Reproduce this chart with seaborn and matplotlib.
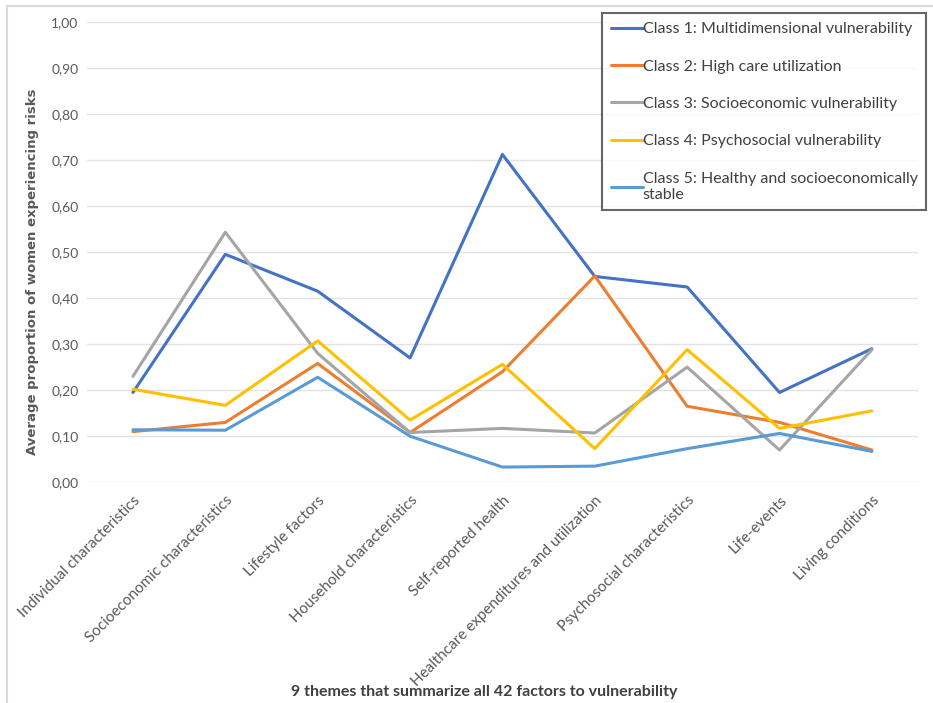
import pandas as pd
import matplotlib
matplotlib.use("Agg")
import matplotlib.pyplot as plt
import seaborn as sns
from matplotlib.patches import Rectangle
from matplotlib.ticker import FuncFormatter

themes = [
    "Individual characteristics",
    "Socioeconomic characteristics",
    "Lifestyle factors",
    "Household characteristics",
    "Self-reported health",
    "Healthcare expenditures and utilization",
    "Psychosocial characteristics",
    "Life-events",
    "Living conditions",
]

class_names = [
    "Class 1: Multidimensional vulnerability",
    "Class 2: High care utilization",
    "Class 3: Socioeconomic vulnerability",
    "Class 4: Psychosocial vulnerability",
    "Class 5: Healthy and socioeconomically\nstable",
]

class1 = [0.195, 0.495, 0.415, 0.270, 0.712, 0.447, 0.424, 0.195, 0.290]
class2 = [0.110, 0.130, 0.258, 0.108, 0.240, 0.448, 0.165, 0.130, 0.070]
class3 = [0.230, 0.543, 0.280, 0.108, 0.117, 0.107, 0.250, 0.070, 0.288]
class4 = [0.202, 0.167, 0.307, 0.135, 0.256, 0.073, 0.288, 0.117, 0.155]
class5 = [0.114, 0.113, 0.228, 0.100, 0.033, 0.035, 0.073, 0.106, 0.067]

colors = ["#4472C4", "#ED7D31", "#A5A5A5", "#FFC000", "#5B9BD5"]

rows = []
for name, vals in zip(class_names, [class1, class2, class3, class4, class5]):
    for t, v in zip(themes, vals):
        rows.append({"theme": t, "value": v, "cls": name})
df = pd.DataFrame(rows)

sns.set_style("white")
plt.rcParams["font.family"] = ["Lato", "DejaVu Sans"]

fig = plt.figure(figsize=(9.33, 7.03), dpi=100)
ax = fig.add_axes([0.093, 0.314, 0.891, 0.655])

sns.lineplot(data=df, x="theme", y="value", hue="cls", palette=colors,
             sort=False, linewidth=2.2, ax=ax, legend=True)

ax.set_xlim(-0.5, 8.5)
ax.set_ylim(0, 1.0)
ax.set_yticks([i / 10 for i in range(11)])
ax.yaxis.set_major_formatter(FuncFormatter(lambda v, p: f"{v:.2f}".replace(".", ",")))
ax.grid(axis="y", color="#E3E3E3", linewidth=1)
ax.grid(axis="x", visible=False)
for s in ax.spines.values():
    s.set_visible(False)
ax.tick_params(axis="both", length=0, colors="#595959")
ax.tick_params(axis="y", pad=6, labelsize=10)
ax.tick_params(axis="x", pad=8, labelsize=11)
plt.setp(ax.get_xticklabels(), rotation=45, ha="right", rotation_mode="anchor")

ax.set_ylabel("Average proportion of women experiencing risks", fontsize=9.5,
              fontweight="bold", color="#595959", family="DejaVu Sans")
ax.yaxis.set_label_coords(-0.058, 0.457)
ax.set_xlabel("9 themes that summarize all 42 factors to vulnerability", fontsize=11.5,
              fontweight="bold", color="#404040", va="center")
ax.xaxis.set_label_coords(0.478, -0.455)

handles, labels = ax.get_legend_handles_labels()
ax.get_legend().remove()
leg = fig.legend(handles, labels, loc="upper right", bbox_to_anchor=(0.993, 0.981),
                 frameon=True, fancybox=False, edgecolor="#404040", fontsize=11.5,
                 labelspacing=1.45, handlelength=2.0, handletextpad=0.0,
                 borderpad=0.55, borderaxespad=0)
leg.get_frame().set_linewidth(1.5)
for txt in leg.get_texts():
    txt.set_color("#404040")

fig.patches.append(Rectangle((0.0075, -0.05), 1.5, 1.0415, transform=fig.transFigure,
                             fill=False, edgecolor="#D9D9D9", linewidth=1.5))

fig.savefig("out.png", dpi=100)
